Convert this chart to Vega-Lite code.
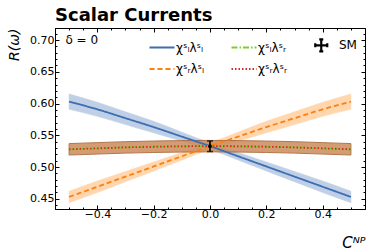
{
  "$schema": "https://vega.github.io/schema/vega-lite/v6.json",
  "autosize": {"type": "none"},
  "padding": {"left": 55, "top": 28, "right": 9, "bottom": 41},
  "width": 310,
  "height": 181,
  "background": "white",
  "title": {"text": "Scalar Currents", "anchor": "start", "frame": "group", "fontSize": 18, "fontWeight": "bold", "font": "DejaVu Sans", "baseline": "alphabetic", "offset": -11, "color": "black"},
  "config": {
    "view": {"stroke": "black", "strokeWidth": 1},
    "font": "DejaVu Sans",
    "axis": {"grid": false, "labelFont": "DejaVu Sans", "labelFontSize": 11, "labelColor": "black", "tickColor": "black", "domainColor": "black", "titleFont": "DejaVu Sans", "titleColor": "black", "titleFontWeight": "normal"}
  },
  "datasets": {
    "curves": [
      {"k": "LL", "series": "χˢₗλˢₗ", "c": -0.5, "R": 0.603, "lo": 0.591, "hi": 0.615},
      {"k": "LL", "series": "χˢₗλˢₗ", "c": -0.4, "R": 0.591, "lo": 0.580, "hi": 0.602},
      {"k": "LL", "series": "χˢₗλˢₗ", "c": -0.3, "R": 0.577, "lo": 0.567, "hi": 0.587},
      {"k": "LL", "series": "χˢₗλˢₗ", "c": -0.2, "R": 0.563, "lo": 0.554, "hi": 0.572},
      {"k": "LL", "series": "χˢₗλˢₗ", "c": -0.1, "R": 0.548, "lo": 0.541, "hi": 0.555},
      {"k": "LL", "series": "χˢₗλˢₗ", "c": 0.0, "R": 0.533, "lo": 0.528, "hi": 0.538},
      {"k": "LL", "series": "χˢₗλˢₗ", "c": 0.1, "R": 0.517, "lo": 0.511, "hi": 0.523},
      {"k": "LL", "series": "χˢₗλˢₗ", "c": 0.2, "R": 0.501, "lo": 0.494, "hi": 0.508},
      {"k": "LL", "series": "χˢₗλˢₗ", "c": 0.3, "R": 0.485, "lo": 0.477, "hi": 0.493},
      {"k": "LL", "series": "χˢₗλˢₗ", "c": 0.4, "R": 0.469, "lo": 0.460, "hi": 0.478},
      {"k": "LL", "series": "χˢₗλˢₗ", "c": 0.5, "R": 0.453, "lo": 0.444, "hi": 0.462},
      {"k": "RL", "series": "χˢᵣλˢₗ", "c": -0.5, "R": 0.453, "lo": 0.444, "hi": 0.462},
      {"k": "RL", "series": "χˢᵣλˢₗ", "c": -0.4, "R": 0.469, "lo": 0.460, "hi": 0.478},
      {"k": "RL", "series": "χˢᵣλˢₗ", "c": -0.3, "R": 0.485, "lo": 0.477, "hi": 0.493},
      {"k": "RL", "series": "χˢᵣλˢₗ", "c": -0.2, "R": 0.501, "lo": 0.494, "hi": 0.508},
      {"k": "RL", "series": "χˢᵣλˢₗ", "c": -0.1, "R": 0.517, "lo": 0.511, "hi": 0.523},
      {"k": "RL", "series": "χˢᵣλˢₗ", "c": 0.0, "R": 0.533, "lo": 0.528, "hi": 0.538},
      {"k": "RL", "series": "χˢᵣλˢₗ", "c": 0.1, "R": 0.548, "lo": 0.541, "hi": 0.555},
      {"k": "RL", "series": "χˢᵣλˢₗ", "c": 0.2, "R": 0.563, "lo": 0.554, "hi": 0.572},
      {"k": "RL", "series": "χˢᵣλˢₗ", "c": 0.3, "R": 0.577, "lo": 0.567, "hi": 0.587},
      {"k": "RL", "series": "χˢᵣλˢₗ", "c": 0.4, "R": 0.591, "lo": 0.580, "hi": 0.602},
      {"k": "RL", "series": "χˢᵣλˢₗ", "c": 0.5, "R": 0.603, "lo": 0.591, "hi": 0.615},
      {"k": "LR", "series": "χˢₗλˢᵣ", "c": -0.5, "R": 0.528, "lo": 0.519, "hi": 0.537},
      {"k": "LR", "series": "χˢₗλˢᵣ", "c": -0.4, "R": 0.5295, "lo": 0.5205, "hi": 0.5385},
      {"k": "LR", "series": "χˢₗλˢᵣ", "c": -0.3, "R": 0.531, "lo": 0.522, "hi": 0.540},
      {"k": "LR", "series": "χˢₗλˢᵣ", "c": -0.2, "R": 0.532, "lo": 0.523, "hi": 0.541},
      {"k": "LR", "series": "χˢₗλˢᵣ", "c": -0.1, "R": 0.5327, "lo": 0.5237, "hi": 0.5417},
      {"k": "LR", "series": "χˢₗλˢᵣ", "c": 0.0, "R": 0.533, "lo": 0.524, "hi": 0.542},
      {"k": "LR", "series": "χˢₗλˢᵣ", "c": 0.1, "R": 0.5327, "lo": 0.5237, "hi": 0.5417},
      {"k": "LR", "series": "χˢₗλˢᵣ", "c": 0.2, "R": 0.532, "lo": 0.523, "hi": 0.541},
      {"k": "LR", "series": "χˢₗλˢᵣ", "c": 0.3, "R": 0.531, "lo": 0.522, "hi": 0.540},
      {"k": "LR", "series": "χˢₗλˢᵣ", "c": 0.4, "R": 0.5295, "lo": 0.5205, "hi": 0.5385},
      {"k": "LR", "series": "χˢₗλˢᵣ", "c": 0.5, "R": 0.528, "lo": 0.519, "hi": 0.537},
      {"k": "RR", "series": "χˢᵣλˢᵣ", "c": -0.5, "R": 0.528, "lo": 0.519, "hi": 0.537},
      {"k": "RR", "series": "χˢᵣλˢᵣ", "c": -0.4, "R": 0.5295, "lo": 0.5205, "hi": 0.5385},
      {"k": "RR", "series": "χˢᵣλˢᵣ", "c": -0.3, "R": 0.531, "lo": 0.522, "hi": 0.540},
      {"k": "RR", "series": "χˢᵣλˢᵣ", "c": -0.2, "R": 0.532, "lo": 0.523, "hi": 0.541},
      {"k": "RR", "series": "χˢᵣλˢᵣ", "c": -0.1, "R": 0.5327, "lo": 0.5237, "hi": 0.5417},
      {"k": "RR", "series": "χˢᵣλˢᵣ", "c": 0.0, "R": 0.533, "lo": 0.524, "hi": 0.542},
      {"k": "RR", "series": "χˢᵣλˢᵣ", "c": 0.1, "R": 0.5327, "lo": 0.5237, "hi": 0.5417},
      {"k": "RR", "series": "χˢᵣλˢᵣ", "c": 0.2, "R": 0.532, "lo": 0.523, "hi": 0.541},
      {"k": "RR", "series": "χˢᵣλˢᵣ", "c": 0.3, "R": 0.531, "lo": 0.522, "hi": 0.540},
      {"k": "RR", "series": "χˢᵣλˢᵣ", "c": 0.4, "R": 0.5295, "lo": 0.5205, "hi": 0.5385},
      {"k": "RR", "series": "χˢᵣλˢᵣ", "c": 0.5, "R": 0.528, "lo": 0.519, "hi": 0.537}
    ],
    "sm": [
      {"c": 0.0, "R": 0.533, "lo": 0.5245, "hi": 0.5411}
    ]
  },
  "layer": [
    {
      "data": {"name": "curves"},
      "transform": [{"filter": "datum.k === 'LL'"}],
      "mark": {"type": "area", "color": "#4a78b8", "opacity": 0.35, "stroke": "#4a78b8", "strokeOpacity": 0.7, "strokeWidth": 0.8, "interpolate": "monotone"},
      "encoding": {
        "x": {"field": "c", "type": "quantitative", "scale": {"domain": [-0.55, 0.55], "nice": false, "zero": false},
          "axis": {"orient": "bottom", "title": "Cᴺᴾ", "values": [-0.5, -0.45, -0.4, -0.35, -0.3, -0.25, -0.2, -0.15, -0.1, -0.05, 0, 0.05, 0.1, 0.15, 0.2, 0.25, 0.3, 0.35, 0.4, 0.45, 0.5],
            "format": ".1f", "labelExpr": "abs(round(datum.value*100)) % 20 == 0 ? datum.label : ''",
            "tickSize": {"condition": {"test": "abs(round(datum.value*100)) % 20 == 0", "value": -4}, "value": -2},
            "labelPadding": 3, "labelFlush": false, "labelOverlap": false,
            "titleX": 310, "titleY": 33, "titleAlign": "right", "titleBaseline": "middle", "titleFontSize": 15, "titleFontStyle": "italic"}},
        "y": {"field": "lo", "type": "quantitative", "scale": {"domain": [0.434, 0.719], "nice": false, "zero": false},
          "axis": {"orient": "left", "title": "R(ω)", "values": [0.44, 0.45, 0.46, 0.47, 0.48, 0.49, 0.5, 0.51, 0.52, 0.53, 0.54, 0.55, 0.56, 0.57, 0.58, 0.59, 0.6, 0.61, 0.62, 0.63, 0.64, 0.65, 0.66, 0.67, 0.68, 0.69, 0.7, 0.71],
            "format": ".2f", "labelExpr": "abs(round(datum.value*100)) % 5 == 0 ? datum.label : ''",
            "tickSize": {"condition": {"test": "abs(round(datum.value*100)) % 5 == 0", "value": -4}, "value": -2},
            "labelPadding": 5, "labelFlush": false, "labelOverlap": false,
            "titleX": -41, "titleY": 0, "titleAngle": -90, "titleAlign": "right", "titleBaseline": "middle", "titleFontSize": 14, "titleFontStyle": "italic"}},
        "y2": {"field": "hi"}
      }
    },
    {
      "data": {"name": "curves"},
      "transform": [{"filter": "datum.k === 'RL'"}],
      "mark": {"type": "area", "color": "#ff8c1a", "opacity": 0.35, "stroke": "#ff8c1a", "strokeOpacity": 0.7, "strokeWidth": 0.8, "interpolate": "monotone"},
      "encoding": {
        "x": {"field": "c", "type": "quantitative",
          "axis": {"orient": "top", "title": null, "labels": false, "values": [-0.5, -0.45, -0.4, -0.35, -0.3, -0.25, -0.2, -0.15, -0.1, -0.05, 0, 0.05, 0.1, 0.15, 0.2, 0.25, 0.3, 0.35, 0.4, 0.45, 0.5],
            "tickSize": {"condition": {"test": "abs(round(datum.value*100)) % 20 == 0", "value": -4}, "value": -2}}},
        "y": {"field": "lo", "type": "quantitative",
          "axis": {"orient": "right", "title": null, "labels": false, "values": [0.44, 0.45, 0.46, 0.47, 0.48, 0.49, 0.5, 0.51, 0.52, 0.53, 0.54, 0.55, 0.56, 0.57, 0.58, 0.59, 0.6, 0.61, 0.62, 0.63, 0.64, 0.65, 0.66, 0.67, 0.68, 0.69, 0.7, 0.71],
            "tickSize": {"condition": {"test": "abs(round(datum.value*100)) % 5 == 0", "value": -4}, "value": -2}}},
        "y2": {"field": "hi"}
      }
    },
    {
      "data": {"name": "curves"},
      "transform": [{"filter": "datum.k === 'RR'"}],
      "mark": {"type": "area", "color": "#cd8b5c", "opacity": 0.85, "stroke": "#a5602c", "strokeWidth": 1, "interpolate": "monotone"},
      "encoding": {
        "x": {"field": "c", "type": "quantitative", "axis": null},
        "y": {"field": "lo", "type": "quantitative", "axis": null},
        "y2": {"field": "hi"}
      }
    },
    {
      "data": {"name": "curves"},
      "mark": {"type": "line", "strokeWidth": 1.8, "interpolate": "monotone"},
      "encoding": {
        "x": {"field": "c", "type": "quantitative", "axis": null},
        "y": {"field": "R", "type": "quantitative", "axis": null},
        "color": {"field": "series", "type": "nominal",
          "scale": {"domain": ["χˢₗλˢₗ", "χˢᵣλˢₗ", "χˢₗλˢᵣ", "χˢᵣλˢᵣ", "SM"], "range": ["#3d6db3", "#ff7f0e", "#7ccf2a", "#d62728", "#000000"]},
          "legend": {"title": null, "orient": "none", "legendX": 101, "legendY": 11, "columns": 3, "symbolType": "stroke", "symbolSize": 625, "symbolStrokeWidth": 1.8, "labelFontSize": 12, "labelFont": "DejaVu Sans", "labelColor": "black", "labelOffset": 8, "columnPadding": 22, "rowPadding": 7, "padding": 0,
            "encode": {
              "symbols": {"update": {
                "shape": {"signal": "datum.value === 'SM' ? 'M-1.42,0H-0.46M-0.94,-0.48V0.48M-1.1,-0.48H-0.78M-1.1,0.48H-0.78M-1.42,-0.16V0.16M-0.46,-0.16V0.16' : 'stroke'"},
                "strokeWidth": {"signal": "datum.value === 'SM' ? 2.2 : 1.8"}}},
              "labels": {"update": {
                "dx": {"signal": "datum.value === 'SM' ? -8 : 0"}}}}}},
        "strokeDash": {"field": "series", "type": "nominal",
          "scale": {"domain": ["χˢₗλˢₗ", "χˢᵣλˢₗ", "χˢₗλˢᵣ", "χˢᵣλˢᵣ", "SM"], "range": [[1, 0], [5, 3], [6, 2, 1.5, 2], [1.5, 2], [1, 0]]}},
        "order": {"field": "k"}
      }
    },
    {
      "data": {"name": "sm"},
      "mark": {"type": "rule", "color": "black", "strokeWidth": 1.6},
      "encoding": {
        "x": {"field": "c", "type": "quantitative", "axis": null},
        "y": {"field": "lo", "type": "quantitative", "axis": null},
        "y2": {"field": "hi"}
      }
    },
    {
      "data": {"name": "sm"},
      "mark": {"type": "tick", "color": "black", "orient": "horizontal", "size": 6, "thickness": 1.6},
      "encoding": {
        "x": {"field": "c", "type": "quantitative", "axis": null},
        "y": {"field": "lo", "type": "quantitative", "axis": null}
      }
    },
    {
      "data": {"name": "sm"},
      "mark": {"type": "tick", "color": "black", "orient": "horizontal", "size": 6, "thickness": 1.6},
      "encoding": {
        "x": {"field": "c", "type": "quantitative", "axis": null},
        "y": {"field": "hi", "type": "quantitative", "axis": null}
      }
    },
    {
      "data": {"name": "sm"},
      "mark": {"type": "point", "shape": "circle", "filled": true, "color": "black", "size": 14, "opacity": 1},
      "encoding": {
        "x": {"field": "c", "type": "quantitative", "axis": null},
        "y": {"field": "R", "type": "quantitative", "axis": null}
      }
    },
    {
      "data": {"name": "sm"},
      "mark": {"type": "text", "text": "δ = 0", "align": "left", "baseline": "middle", "fontSize": 12, "font": "DejaVu Sans", "color": "black"},
      "encoding": {
        "x": {"datum": -0.513, "type": "quantitative", "axis": null},
        "y": {"datum": 0.70, "type": "quantitative", "axis": null}
      }
    }
  ],
  "resolve": {"axis": {"x": "independent", "y": "independent"}}
}
